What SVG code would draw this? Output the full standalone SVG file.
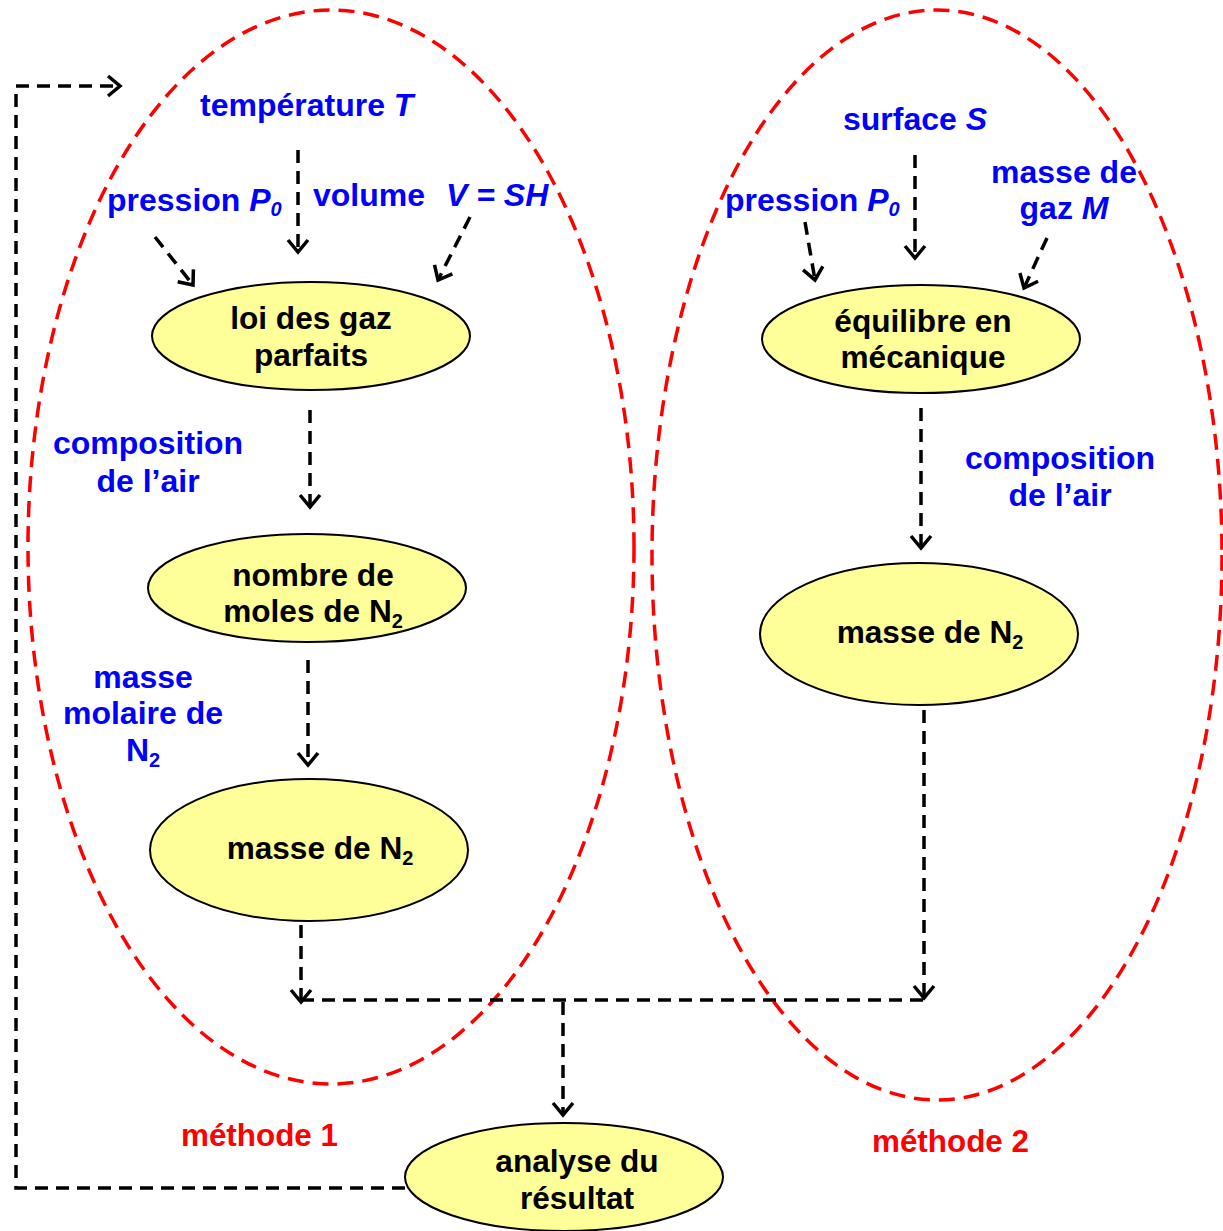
<svg xmlns="http://www.w3.org/2000/svg" width="1223" height="1231" viewBox="0 0 1223 1231">
<defs>
<marker id="ah" markerUnits="userSpaceOnUse" markerWidth="24" markerHeight="24" viewBox="-14 -12 16 24" refX="0" refY="0" orient="auto">
<path d="M-12,-10 L0,0 L-12,10" fill="none" stroke="#000" stroke-width="3.5"/>
</marker>
<style>
.grp{fill:none;stroke:#FF0000;stroke-width:3.5;stroke-dasharray:16 9}
.node{fill:#FFFF99;stroke:#000;stroke-width:2}
.t{font-family:"Liberation Sans",Arial,sans-serif;font-weight:bold;font-size:31.6px;fill:#000;text-anchor:middle}
.b{font-family:"Liberation Sans",Arial,sans-serif;font-weight:bold;font-size:32px;fill:#0000FF}
.r{font-family:"Liberation Sans",Arial,sans-serif;font-weight:bold;font-size:31.4px;fill:#FF0000}
.c{text-anchor:middle}
.e{fill:none;stroke:#000;stroke-width:3.5;stroke-dasharray:13 8}
.ea{fill:none;stroke:#000;stroke-width:3.5;stroke-dasharray:13 8;marker-end:url(#ah)}
.sub{font-size:20px}
</style>
</defs>
<rect width="1223" height="1231" fill="#fff"/>
<g id="groups">
<ellipse id="methode1-zone" class="grp" cx="331" cy="547" rx="303" ry="537"/>
<ellipse id="methode2-zone" class="grp" cx="937" cy="555" rx="285" ry="545"/>
</g>
<g id="connectors">
<path class="ea" d="M405,1188 H16 V86 H120"/>
<path class="ea" d="M298,150 V252"/>
<path class="ea" d="M155,237 L193,285"/>
<path class="ea" d="M470,217 L438,280"/>
<path class="ea" d="M310,410 V507"/>
<path class="ea" d="M308,660 V765"/>
<path class="ea" d="M301,925 V1002"/>
<path class="e" d="M301,1000 H925"/>
<path class="ea" d="M924,710 V998"/>
<path class="ea" d="M563,1002 V1115"/>
<path class="ea" d="M805,222 L815,280"/>
<path class="ea" d="M915,155 V258"/>
<path class="ea" d="M1047,238 L1024,288"/>
<path class="ea" d="M921,408 V548"/>
</g>
<g id="node-loi">
<ellipse class="node" cx="311" cy="336" rx="159" ry="54"/>
<text class="t" x="311" y="329">loi des gaz</text>
<text class="t" x="311" y="366">parfaits</text>
</g>
<g id="node-moles">
<ellipse class="node" cx="307" cy="588" rx="159" ry="54"/>
<text class="t" x="313" y="586">nombre de</text>
<text class="t" x="313" y="622">moles de N<tspan class="sub" dy="6">2</tspan></text>
</g>
<g id="node-masse1">
<ellipse class="node" cx="309" cy="850" rx="159" ry="71"/>
<text class="t" x="320" y="859">masse de N<tspan class="sub" dy="6">2</tspan></text>
</g>
<g id="node-equilibre">
<ellipse class="node" cx="921" cy="339" rx="159" ry="54"/>
<text class="t" x="923" y="332">équilibre en</text>
<text class="t" x="923" y="368">mécanique</text>
</g>
<g id="node-masse2">
<ellipse class="node" cx="919" cy="634" rx="159" ry="71"/>
<text class="t" x="930" y="643">masse de N<tspan class="sub" dy="6">2</tspan></text>
</g>
<g id="node-analyse">
<ellipse class="node" cx="564" cy="1177" rx="159" ry="54"/>
<text class="t" x="577" y="1172">analyse du</text>
<text class="t" x="577" y="1209">résultat</text>
</g>
<g id="labels">
<text class="b" x="200" y="116">température <tspan font-style="italic">T</tspan></text>
<text class="b" x="107" y="211">pression <tspan font-style="italic">P<tspan class="sub" dy="5">0</tspan></tspan></text>
<text class="b" x="313" y="206">volume</text>
<text class="b" x="446" y="206" font-style="italic">V = SH</text>
<text class="b c" x="148" y="454">composition</text>
<text class="b c" x="148" y="492">de l’air</text>
<text class="b c" x="143" y="688">masse</text>
<text class="b c" x="143" y="724">molaire de</text>
<text class="b c" x="143" y="761">N<tspan class="sub" dy="6">2</tspan></text>
<text class="b" x="843" y="130">surface <tspan font-style="italic">S</tspan></text>
<text class="b" x="725" y="211">pression <tspan font-style="italic">P<tspan class="sub" dy="5">0</tspan></tspan></text>
<text class="b c" x="1064" y="183">masse de</text>
<text class="b c" x="1064" y="219">gaz <tspan font-style="italic">M</tspan></text>
<text class="b c" x="1060" y="469">composition</text>
<text class="b c" x="1060" y="506">de l’air</text>
<text class="r" x="181" y="1146">méthode 1</text>
<text class="r" x="872" y="1152">méthode 2</text>
</g>
</svg>
